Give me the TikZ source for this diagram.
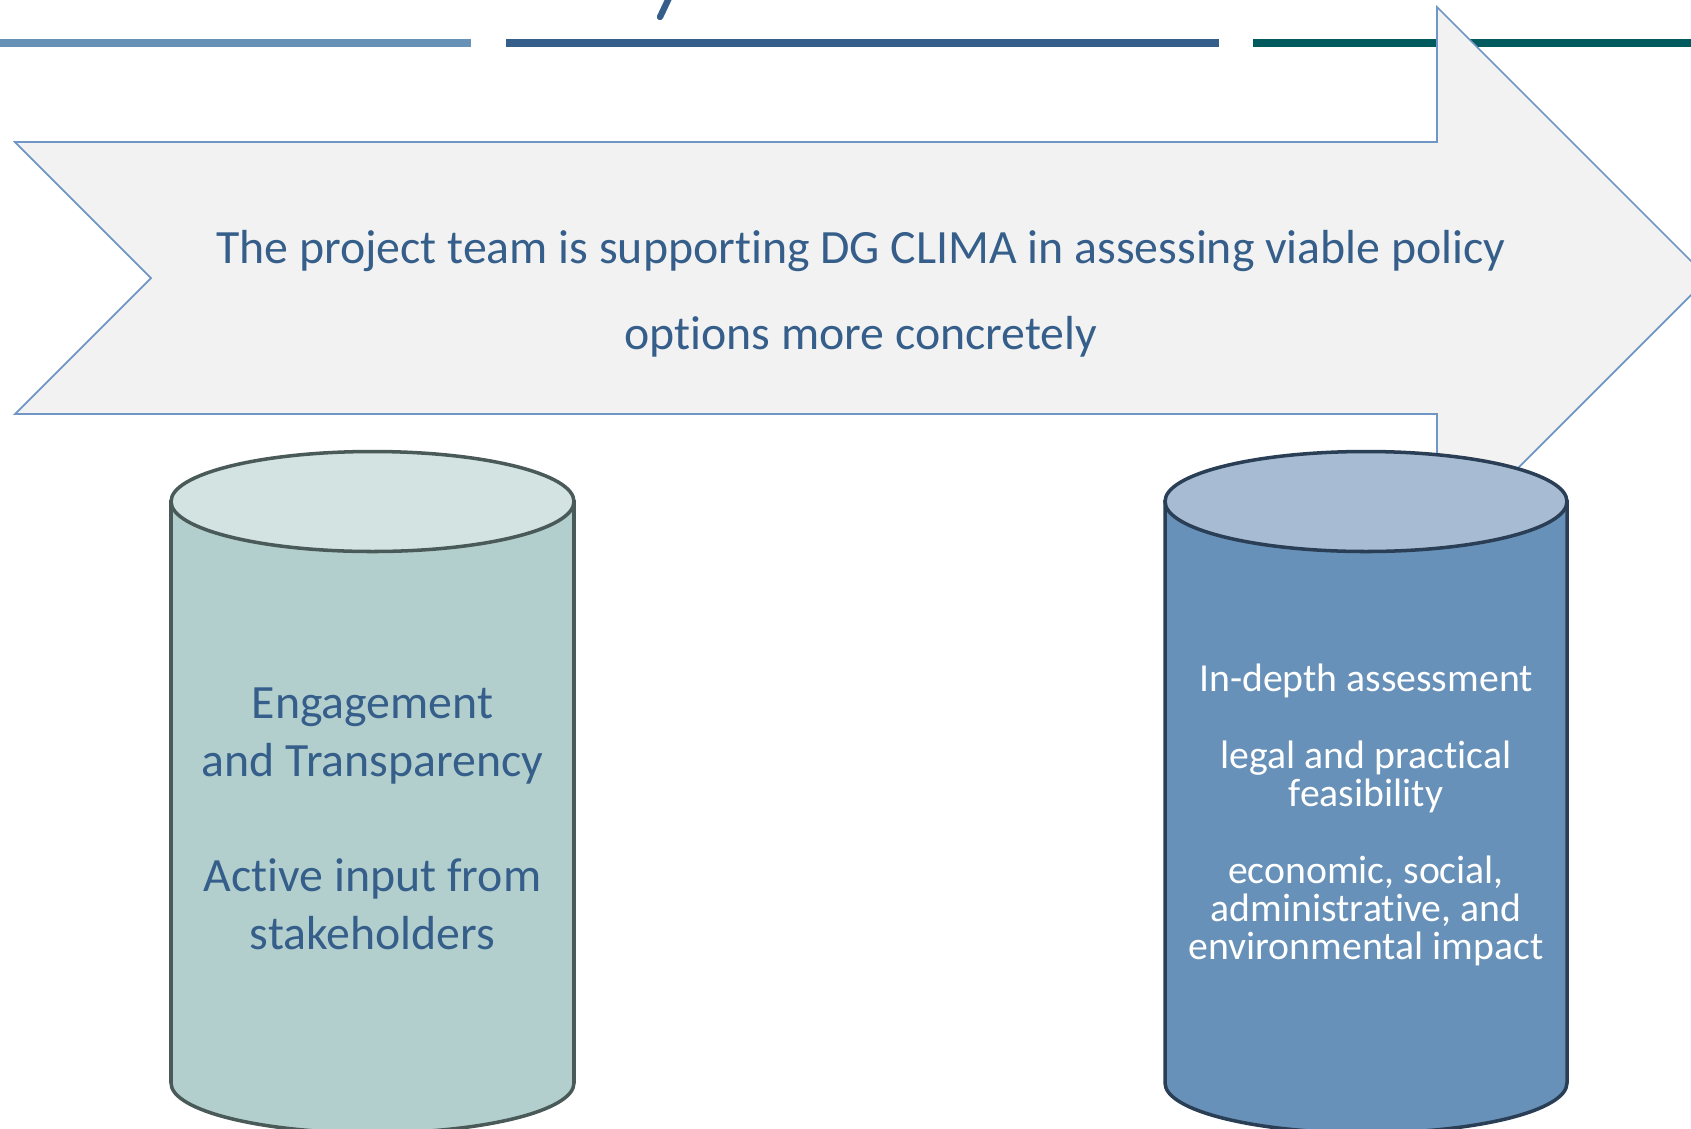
\documentclass[tikz,border=0pt]{standalone}
\usepackage{fontspec}
\setmainfont{Carlito}[Ligatures=NoCommon]
\usepackage{xcolor}
\usepackage{tikz}
\usetikzlibrary{positioning, calc}
\definecolor{mynavy}{RGB}{53,95,138}
\definecolor{mysteel}{RGB}{104,145,184}
\definecolor{myteal}{RGB}{0,90,94}
\definecolor{myedge}{RGB}{111,150,196}
\definecolor{mygray}{RGB}{242,242,242}
\definecolor{sagebody}{RGB}{179,207,205}
\definecolor{sagetop}{RGB}{211,227,225}
\definecolor{sageedge}{RGB}{74,90,88}
\definecolor{bluebody}{RGB}{103,145,184}
\definecolor{bluetop}{RGB}{167,188,211}
\definecolor{blueedge}{RGB}{42,63,85}
\tikzset{
  bigarrow/.style={draw=myedge, fill=mygray, line width=0.5pt},
  arrowtext/.style={align=center, text=mynavy, font=\fontsize{13.6}{24.5}\selectfont},
  sagetext/.style={align=center, text=mynavy, font=\fontsize{13.6}{16.4}\selectfont},
  bluetext/.style={align=center, text=white, font=\fontsize{11.3}{10.9}\selectfont}
}

\begin{document}
\begin{tikzpicture}
  \useasboundingbox (0,0) rectangle (16.91,-11.28);
  % Header bars
  \fill[mysteel] (0,-0.39) rectangle (4.71,-0.47);
  \fill[mynavy] (5.06,-0.39) rectangle (12.19,-0.47);
  \fill[myteal] (12.53,-0.39) rectangle (16.91,-0.47);
  \draw[mynavy, line width=1.8pt, line cap=round] (6.69,0.02) -- (6.60,-0.17); % cut title letter

  % Big arrow
  \begin{scope}
    \clip (0,0) rectangle (16.91,-11.28);
    \draw[bigarrow] (0.15,-1.42) -- (14.37,-1.42) -- (14.37,-0.07)
      -- (17.08,-2.78) -- (14.37,-5.49) -- (14.37,-4.14)
      -- (0.15,-4.14) -- (1.51,-2.78) -- cycle;
  \end{scope}
  \node[arrowtext] (goal) at (8.61,-2.94)
    {The project team is supporting DG CLIMA in assessing viable policy\\options more concretely};

  % Left cylinder
  \begin{scope}
    \clip (0,0) rectangle (16.91,-11.28);
    \draw[sageedge, fill=sagebody, line width=1pt] (1.71,-5.015) -- (1.71,-10.83)
      arc (180:360:2.015 and 0.5) -- (5.74,-5.015) -- cycle;
    \draw[sageedge, fill=sagetop, line width=1pt] (3.725,-5.015) ellipse (2.015 and 0.5);
  % Right cylinder
    \draw[blueedge, fill=bluebody, line width=1pt] (11.65,-5.015) -- (11.65,-10.83)
      arc (180:360:2.01 and 0.5) -- (15.67,-5.015) -- cycle;
    \draw[blueedge, fill=bluetop, line width=1pt] (13.66,-5.015) ellipse (2.01 and 0.5);
  \end{scope}

  \node[sagetext] (engage) at (3.725,-8.19)
    {Engagement\\and Transparency\\[16.4pt]Active input from\\stakeholders};
  \node[bluetext] (assess) at (13.66,-8.15)
    {In-depth assessment\\[10.9pt]legal and practical\\feasibility\\[10.9pt]economic, social,\\administrative, and\\environmental impact};
\end{tikzpicture}
\end{document}
